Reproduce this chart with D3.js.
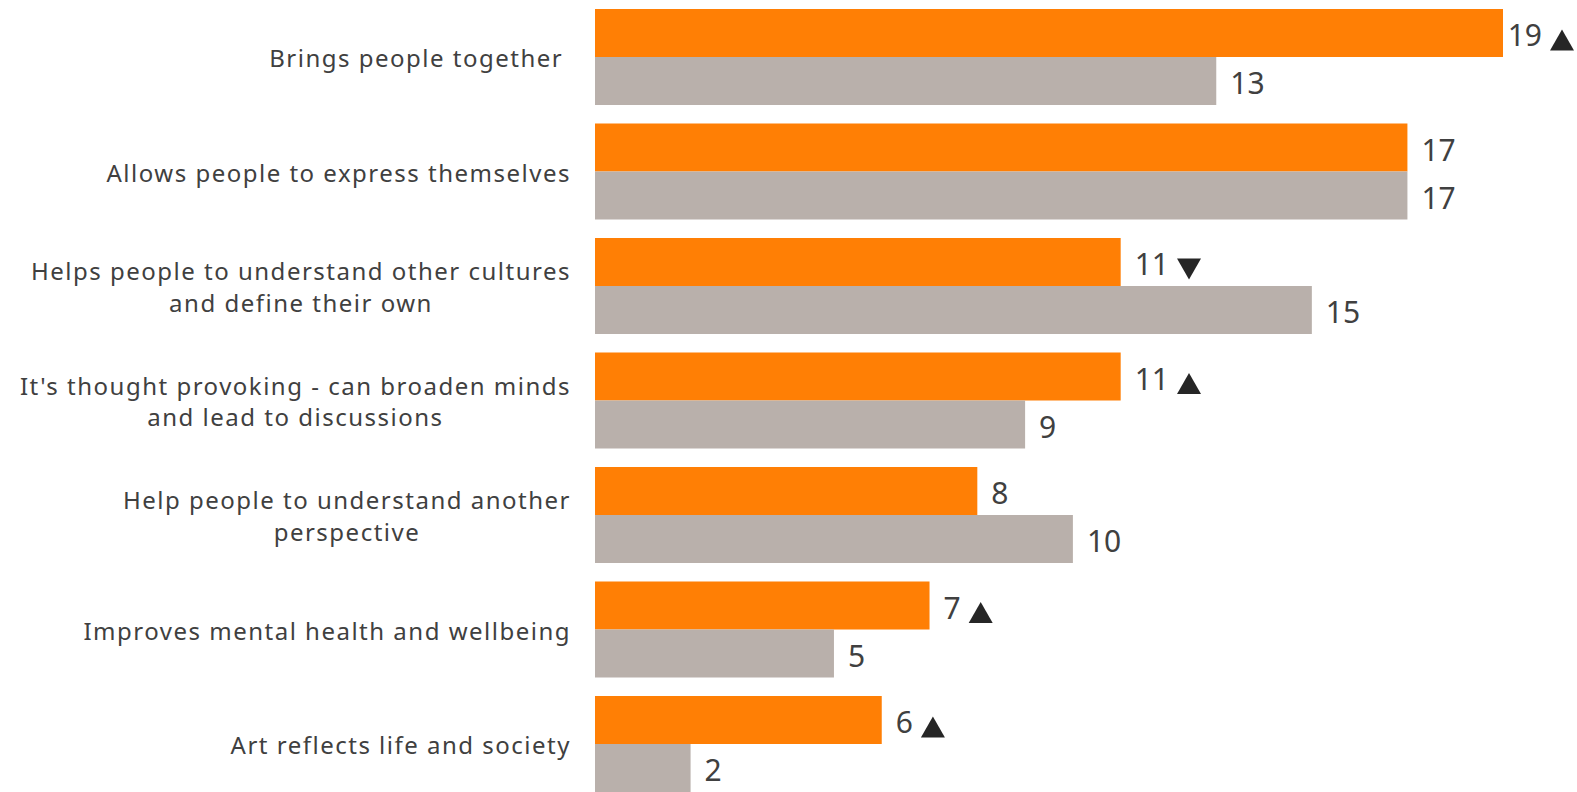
<!DOCTYPE html>
<html>
<head>
<meta charset="utf-8">
<script src="https://cdn.jsdelivr.net/npm/d3@7"></script>
<style>
  html, body { margin: 0; padding: 0; background: #ffffff; }
  svg { display: block; }
  .cat { font-family: "Noto Sans", sans-serif; font-size: 24px; letter-spacing: 1.5px; fill: #404040; }
  .val { font-family: "Noto Sans", sans-serif; font-size: 30px; fill: #404040; }
</style>
</head>
<body>
<svg id="chart" width="1577" height="792"></svg>
<script>
// Reasons given, in display order (top to bottom); "\n" splits a label onto two lines
const categories = [
  "Brings people together\u00A0",
  "Allows people to express themselves",
  "Helps people to understand other cultures\nand define their own",
  "It's thought provoking - can broaden minds\nand lead to discussions",
  "Help people to understand another\nperspective",
  "Improves mental health and wellbeing",
  "Art reflects life and society"
];
const currentValues  = [19, 17, 11, 11, 8, 7, 6];
const previousValues = [13, 17, 15, 9, 10, 5, 2];
// Significant change markers for the current series
const changeMarkers  = ["up", null, "down", "up", null, "up", "up"];

const seriesNames  = ["current", "previous"];
const seriesColors = ["#FF7F05", "#B9B0AB"];

const W = 1577, H = 792;
const plotLeft = 595, plotRight = 1503;
const plotTop = 9, plotBottom = 792;

const svg = d3.select("#chart");

const x = d3.scaleLinear().domain([0, 19]).range([plotLeft, plotRight]);
const y0 = d3.scaleBand().domain(d3.range(categories.length))
  .range([plotTop, plotBottom]).paddingInner(18.5 / 114.5).paddingOuter(0);
const y1 = d3.scaleBand().domain(seriesNames).range([0, y0.bandwidth()]);

const rows = categories.map((c, i) => ({
  i, label: c,
  values: [currentValues[i], previousValues[i]],
  marker: changeMarkers[i]
}));

const g = svg.selectAll("g.row").data(rows).join("g")
  .attr("class", "row")
  .attr("transform", d => `translate(0,${y0(d.i)})`);

// bars
g.selectAll("rect").data(d => d.values.map((v, k) => ({ v, k, s: seriesNames[k] })))
  .join("rect")
  .attr("x", x(0))
  .attr("y", d => y1(d.s))
  .attr("width", d => x(d.v) - x(0))
  .attr("height", y1.bandwidth())
  .attr("fill", d => seriesColors[d.k]);

// value labels and change markers
g.each(function(row) {
  const sel = d3.select(this);
  row.values.forEach((v, k) => {
    const cy = y1(seriesNames[k]) + y1.bandwidth() / 2;
    let tx = x(v) + 14;
    const t = sel.append("text").attr("class", "val")
      .attr("y", cy + 13)
      .text(v);
    const tw = t.node().getComputedTextLength();
    const hasMarker = k === 0 && row.marker;
    const mW = 24, mH = 21, mGap = 8;
    if (hasMarker) {
      const total = tw + mGap + mW;
      if (tx + total > W - 3) tx = W - 3 - total;
    }
    t.attr("x", tx);
    if (hasMarker) {
      const mx = tx + tw + mGap;
      const my = cy + 7;
      const p = row.marker === "up"
        ? `M${mx},${my + mH / 2}L${mx + mW / 2},${my - mH / 2}L${mx + mW},${my + mH / 2}Z`
        : `M${mx},${my - mH / 2}L${mx + mW / 2},${my + mH / 2}L${mx + mW},${my - mH / 2}Z`;
      sel.append("path").attr("d", p).attr("fill", "#262626");
    }
  });
});

// category labels: block right-aligned to the bars, each line centred within the block
const labelRight = 571;
const lineH = 31.5;
g.each(function(row) {
  const sel = d3.select(this);
  const lines = row.label.split("\n");
  const cy = y0.bandwidth() / 2;
  const texts = lines.map((ln, j) => sel.append("text").attr("class", "cat")
    .attr("text-anchor", "middle")
    .attr("y", cy + (j - (lines.length - 1) / 2) * lineH + 10)
    .text(ln));
  const widths = texts.map(t => t.node().getComputedTextLength());
  const bw = d3.max(widths);
  texts.forEach(t => t.attr("x", labelRight - bw / 2));
});
</script>
</body>
</html>
